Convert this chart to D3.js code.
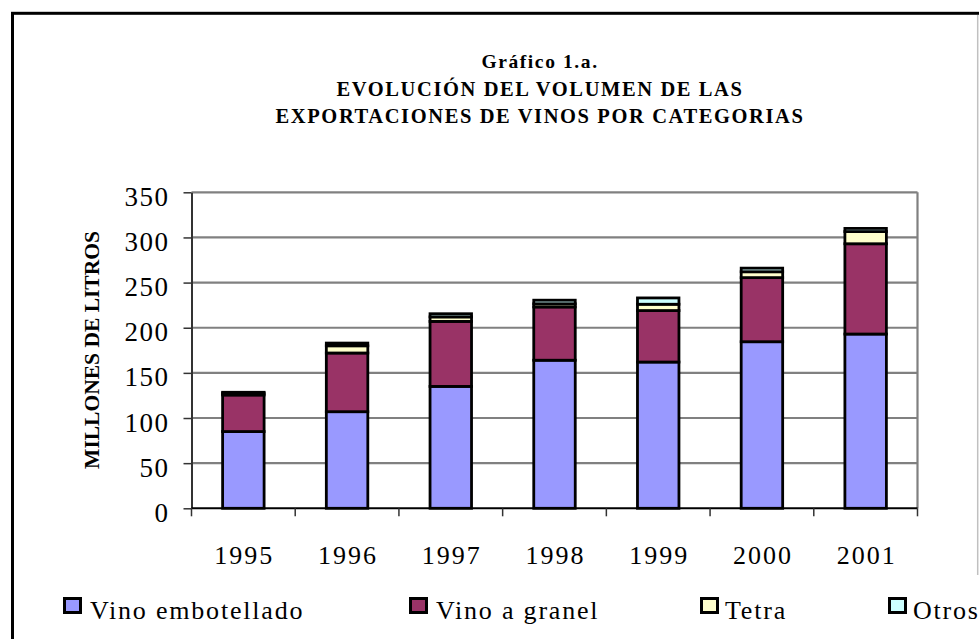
<!DOCTYPE html>
<html>
<head>
<meta charset="utf-8">
<script src="https://cdn.jsdelivr.net/npm/d3@7"></script>
<style>
  body { margin: 0; background: #fff; }
  text { font-family: "Liberation Serif", "Times New Roman", serif; }
</style>
</head>
<body>
<div id="chart"></div>
<script>

// data (millones de litros)
var years = ["1995", "1996", "1997", "1998", "1999", "2000", "2001"];
var embotellado = [85, 107, 135, 164, 162, 184.5, 193];
var granel = [40.5, 65, 72, 59, 57, 71, 100];
var tetra = [2, 8, 5, 3.5, 7, 6.5, 13.5];
var otros = [1, 3, 3.5, 4, 7, 4, 3.5];
var yTicks = [0, 50, 100, 150, 200, 250, 300, 350];
var seriesNames = ["Vino embotellado", "Vino a granel", "Tetra", "Otros"];
var titleLines = ["Gráfico 1.a.", "EVOLUCIÓN DEL VOLUMEN DE LAS", "EXPORTACIONES DE VINOS POR CATEGORIAS"];

var W = 979, H = 639;
var margin = { top: 192.3, left: 191.5, right: 61.5, bottom: 130.7 },
    width = W - margin.left - margin.right,
    height = H - margin.top - margin.bottom;

var colors = ["#9999ff", "#993366", "#ffffcc", "#ccffff"];

var svg = d3.select("#chart").append("svg")
  .attr("width", W)
  .attr("height", H);

// outer chart frame (cut by the picture on right and bottom)
svg.append("rect")
  .attr("x", 12.5).attr("y", 13.3)
  .attr("width", W + 20).attr("height", H + 20)
  .attr("fill", "none")
  .attr("stroke", "#000")
  .attr("stroke-width", 3);
svg.append("line")
  .attr("x1", 977.7).attr("x2", 977.7)
  .attr("y1", 15).attr("y2", 575)
  .attr("stroke", "#c0c0c0")
  .attr("stroke-width", 1.5);

// title
svg.append("g").selectAll("text")
  .data(titleLines)
  .enter().append("text")
  .attr("x", 540)
  .attr("y", function(d, i) { return i == 0 ? 68 : 95.5 + (i - 1) * 27.5; })
  .attr("text-anchor", "middle")
  .style("font-weight", "bold")
  .style("font-size", function(d, i) { return i == 0 ? "19.5px" : "20.5px"; })
  .style("letter-spacing", "1.6px")
  .text(function(d) { return d; });

var g = svg.append("g")
  .attr("transform", "translate(" + margin.left + "," + margin.top + ")");

var x = d3.scaleBand()
  .domain(years)
  .range([0, width])
  .paddingInner(0.6)
  .paddingOuter(0.3);

var y = d3.scaleLinear()
  .domain([0, 350])
  .range([height, 0]);

// gridlines
g.append("g")
  .selectAll("line")
  .data(yTicks.slice(1))
  .enter().append("line")
  .attr("x1", 0).attr("x2", width)
  .attr("y1", function(d) { return y(d); })
  .attr("y2", function(d) { return y(d); })
  .attr("stroke", "#808080")
  .attr("stroke-width", 2.2);

// right border of plot area
g.append("line")
  .attr("x1", width).attr("x2", width)
  .attr("y1", 0).attr("y2", height)
  .attr("stroke", "#808080")
  .attr("stroke-width", 2.2);

// stacked bars
var table = years.map(function(yr, i) {
  return { year: yr, s0: embotellado[i], s1: granel[i], s2: tetra[i], s3: otros[i] };
});
var stack = d3.stack().keys(["s0", "s1", "s2", "s3"]);
var layers = stack(table);

g.selectAll(".layer")
  .data(layers)
  .enter().append("g")
  .attr("class", "layer")
  .attr("fill", function(d, i) { return colors[i]; })
  .selectAll("rect")
  .data(function(d) { return d; })
  .enter().append("rect")
  .attr("x", function(d) { return x(d.data.year); })
  .attr("width", x.bandwidth())
  .attr("y", function(d) { return y(d[1]); })
  .attr("height", function(d) { return y(d[0]) - y(d[1]); })
  .attr("stroke", "#000")
  .attr("stroke-width", 2.8);

// y axis
var yAxis = g.append("g")
  .call(d3.axisLeft(y).tickValues(yTicks).tickSize(8).tickPadding(0).tickSizeOuter(0));
yAxis.select(".domain").attr("stroke", "#333").attr("stroke-width", 2);
yAxis.selectAll(".tick line").attr("stroke", "#333").attr("stroke-width", 1.5);
yAxis.selectAll(".tick text")
  .attr("x", -22)
  .attr("dy", "13px")
  .attr("fill", "#000")
  .style("font-size", "27px")
  .style("letter-spacing", "1.5px");

// x axis: ticks sit between the categories
var bounds = d3.range(years.length + 1).map(function(i) { return i * x.step(); });
var xAxis = g.append("g").attr("transform", "translate(0," + height + ")");
xAxis.append("line")
  .attr("x1", 0).attr("x2", width)
  .attr("stroke", "#000").attr("stroke-width", 2);
xAxis.selectAll(".xtick")
  .data(bounds)
  .enter().append("line")
  .attr("class", "xtick")
  .attr("x1", function(d) { return d; })
  .attr("x2", function(d) { return d; })
  .attr("y1", 0).attr("y2", 8)
  .attr("stroke", "#333").attr("stroke-width", 1.5);
xAxis.selectAll(".xlabel")
  .data(years)
  .enter().append("text")
  .attr("class", "xlabel")
  .attr("x", function(d) { return x(d) + x.bandwidth() / 2 + 1; })
  .attr("y", 55.5)
  .attr("text-anchor", "middle")
  .style("font-size", "26px")
  .style("letter-spacing", "2px")
  .text(function(d) { return d; });

// y axis title
svg.append("text")
  .attr("transform", "translate(99,350) rotate(-90)")
  .attr("text-anchor", "middle")
  .style("font-weight", "bold")
  .style("font-size", "21.5px")
  .text("MILLONES DE LITROS");

// legend
var legendX = [63, 409, 700, 888];
var legend = svg.append("g").selectAll("g")
  .data(seriesNames)
  .enter().append("g")
  .attr("transform", function(d, i) { return "translate(" + legendX[i] + ",597)"; });
legend.append("rect")
  .attr("x", 1.5).attr("y", 1.5)
  .attr("width", 16).attr("height", 14)
  .attr("fill", function(d, i) { return colors[i]; })
  .attr("stroke", "#000")
  .attr("stroke-width", 3);
legend.append("text")
  .attr("x", function(d, i) { return i >= 2 ? 25 : 27; })
  .attr("y", 22)
  .style("font-size", "26px")
  .style("letter-spacing", "1.8px")
  .text(function(d) { return d; });

</script>
</body>
</html>
